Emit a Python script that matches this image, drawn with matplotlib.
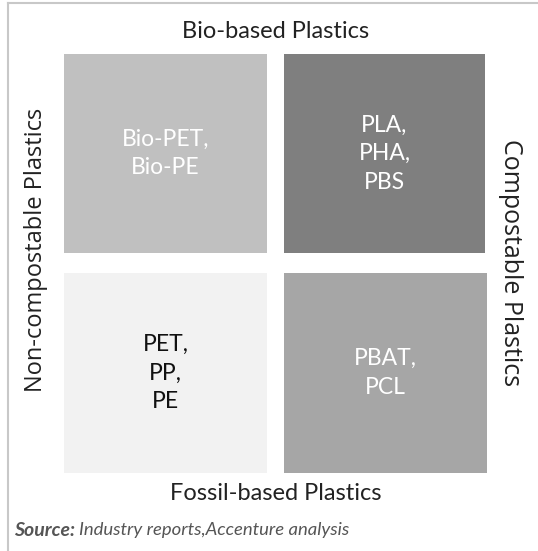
import matplotlib.pyplot as plt
from matplotlib.patches import Rectangle

plt.rcParams['font.family'] = ['Lato', 'DejaVu Sans']

# quadrant content
labels = ["Bio-PET,\nBio-PE", "PLA,\nPHA,\nPBS", "PET,\nPP,\nPE", "PBAT,\nPCL"]
fills = ["#c0c0c0", "#7f7f7f", "#f2f2f2", "#a6a6a6"]
text_colors = ["white", "white", "#111111", "white"]
axis_titles = ["Bio-based Plastics", "Fossil-based Plastics",
               "Non-compostable Plastics", "Compostable Plastics"]

W, H = 538, 551
fig = plt.figure(figsize=(W / 100, H / 100), dpi=100)
ax = fig.add_axes([0, 0, 1, 1])
ax.set_xlim(0, W)
ax.set_ylim(H, 0)
ax.axis('off')

# frame lines (top and left)
ax.plot([8, W], [3, 3], color="#c8c8c8", lw=1.5)
ax.plot([8, 8], [3, H], color="#c8c8c8", lw=1.5)

# quadrant boxes: (x, y, w, h)
boxes = [(64, 54, 203, 199), (284, 54, 201, 199),
         (64, 273, 203, 200), (284, 273, 203, 200)]
for (x, y, w, h), fc, lab, tc in zip(boxes, fills, labels, text_colors):
    ax.add_patch(Rectangle((x, y), w, h, facecolor=fc, edgecolor="none"))
    ax.text(x + w / 2, y + h / 2, lab, ha='center', va='center',
            color=tc, fontsize=16.5, linespacing=1.45)

ax.text(276, 31, axis_titles[0], ha='center', va='center', fontsize=17, color="#222222")
ax.text(276, 493, axis_titles[1], ha='center', va='center', fontsize=17, color="#222222")
ax.text(36, 250, axis_titles[2], ha='center', va='center', rotation=90,
        fontsize=17, color="#222222", family='Open Sans')
ax.text(510, 263, axis_titles[3], ha='center', va='center', rotation=-90,
        fontsize=18, color="#222222", family='Open Sans')

src = ax.text(14, 530, "Source:", ha='left', va='center', fontsize=14,
              fontweight='bold', style='italic', color="#555555")
ax.annotate("Industry reports,Accenture analysis", xy=(1, 0.5), xycoords=src,
            xytext=(3, 0), textcoords='offset points', ha='left', va='center',
            fontsize=13.3, style='italic', color="#555555")

fig.savefig("out.png", dpi=100)
